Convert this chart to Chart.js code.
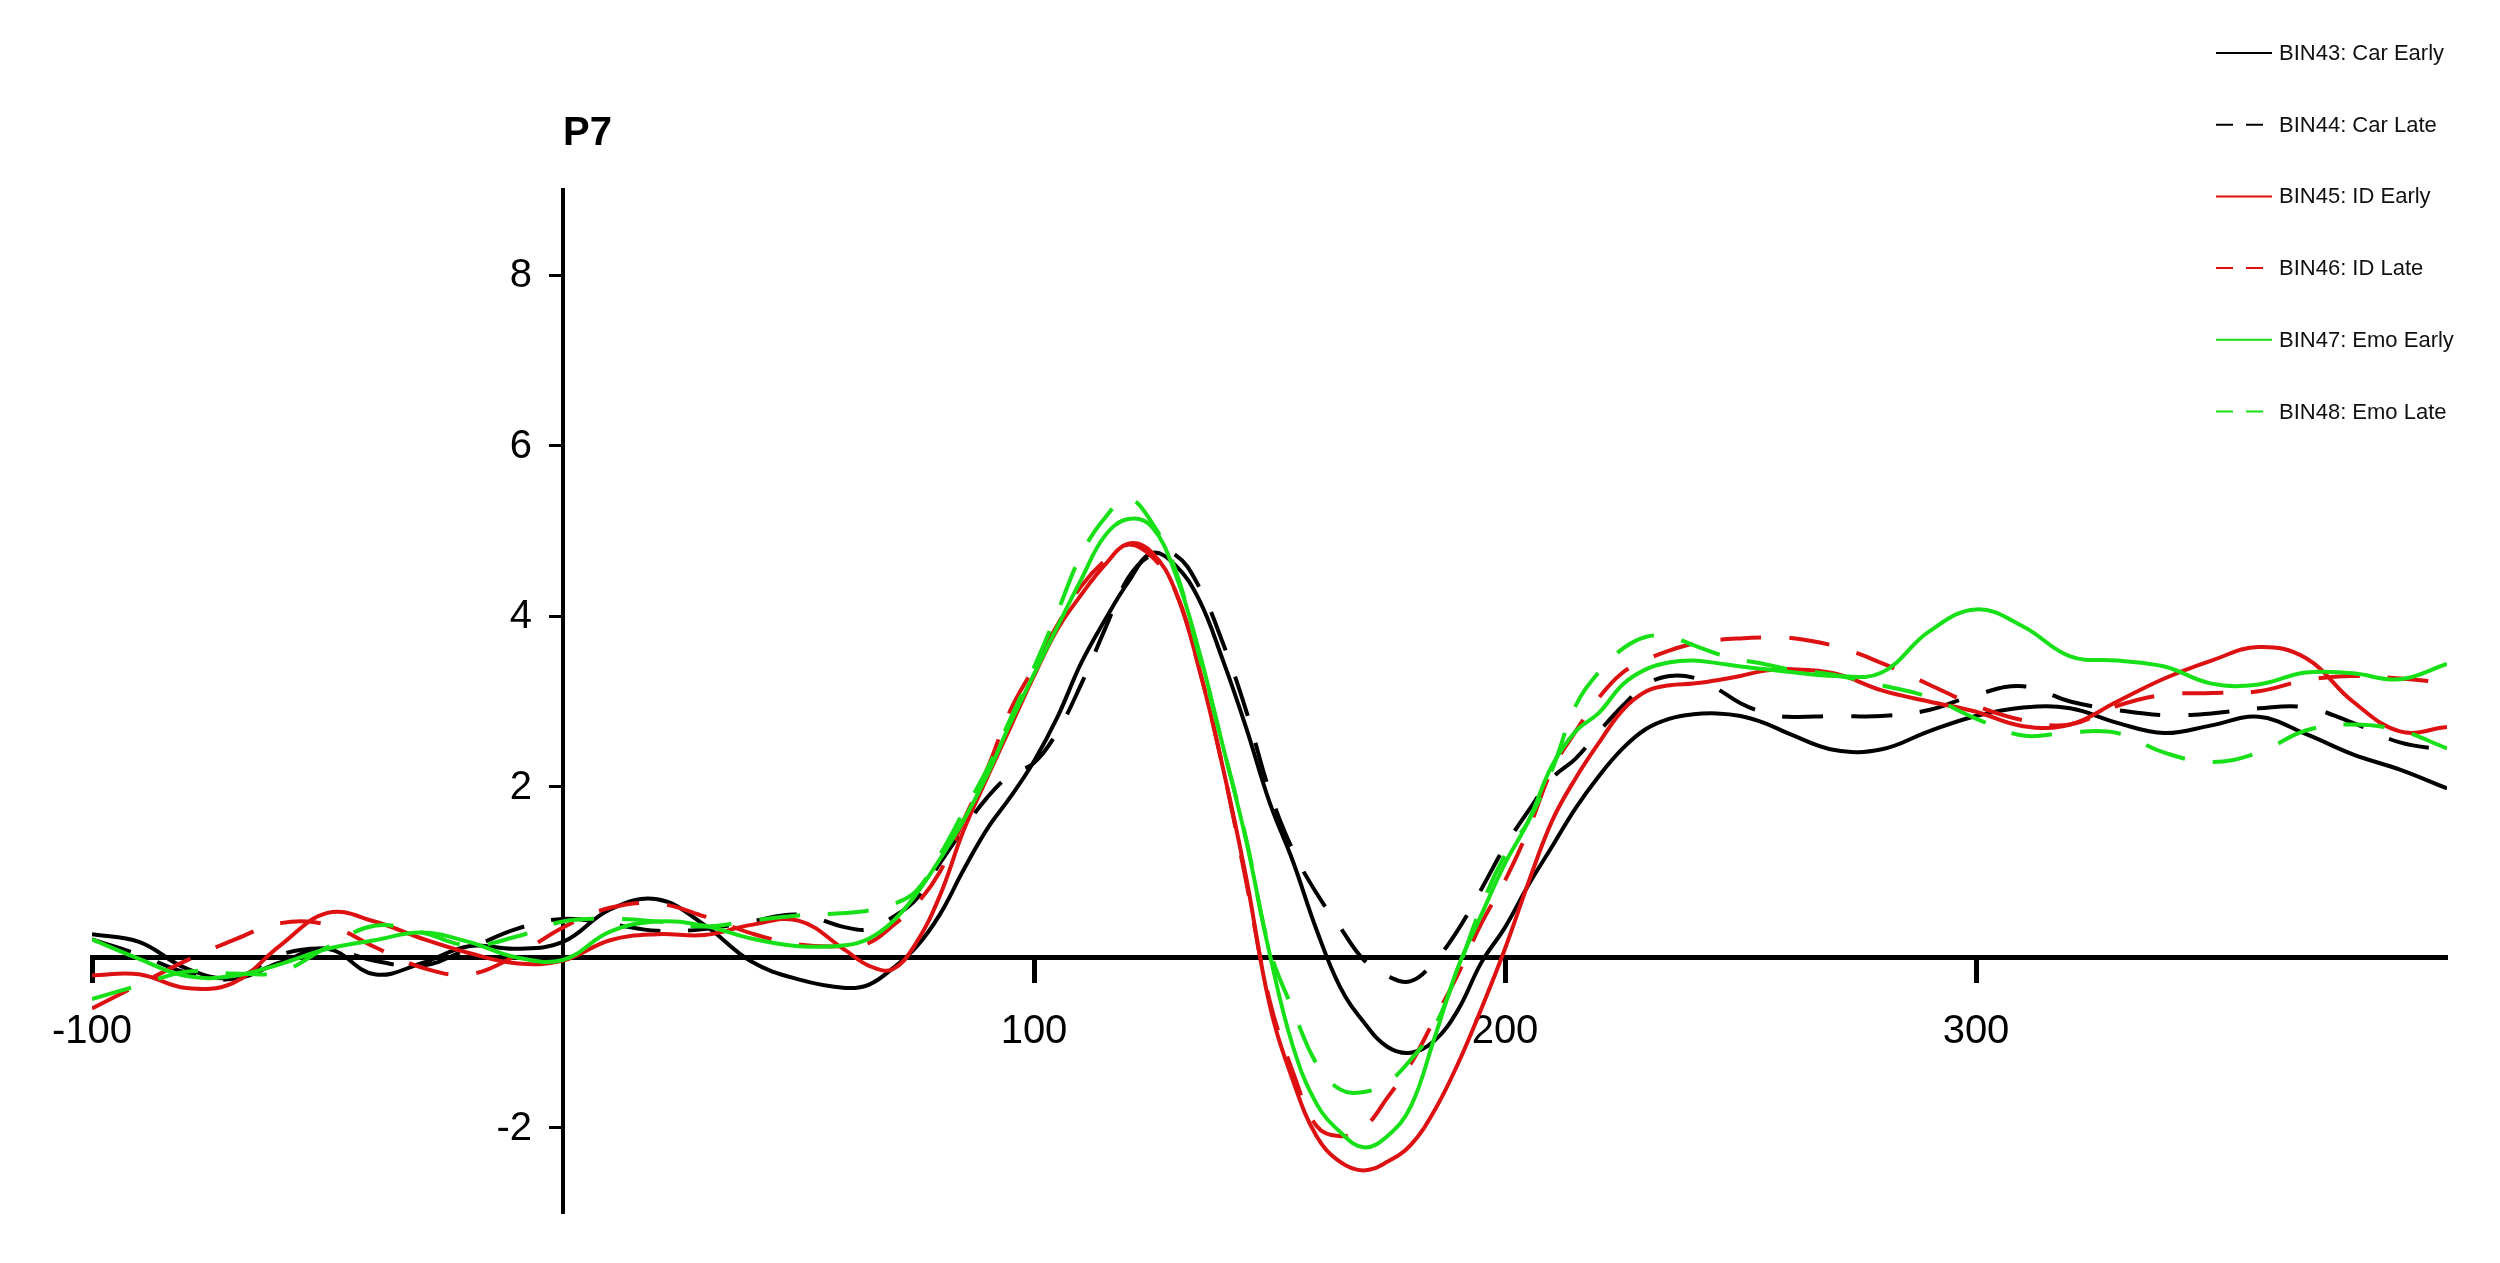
<!DOCTYPE html>
<html>
<head>
<meta charset="utf-8">
<title>P7</title>
<script src="https://cdn.jsdelivr.net/npm/chart.js@4.4.1/dist/chart.umd.min.js"></script>
<style>
  html, body { margin: 0; padding: 0; background: #fff; }
  #wrap { width: 2500px; height: 1263px; position: relative; }
</style>
</head>
<body>
<div id="wrap"><canvas id="erp"></canvas></div>
<script>
// time points (ms) - 10 ms in the baseline and tail, 5 ms around the components
const times = [-100, -90, -80, -70, -60, -50, -40, -30, -20, -10, 0, 10, 20, 30, 40, 50, 60,
  65, 70, 75, 80, 85, 90, 95, 100, 105, 110, 115, 120, 125, 130, 135, 140, 145, 150, 155, 160,
  165, 170, 175, 180, 185, 190, 195, 200, 205, 210, 215, 220, 225, 230, 235, 240, 245, 250, 255, 260,
  270, 280, 290, 300, 310, 320, 330, 340, 350, 360, 370, 380, 390, 400];

// amplitudes (uV)
const bin43 = [0.27, 0.18, -0.13, -0.25, -0.06, 0.10, -0.20, -0.07, 0.13, 0.10, 0.18, 0.56, 0.68, 0.38, -0.05, -0.26, -0.36,
  -0.32, -0.13, 0.12, 0.50, 1.02, 1.50, 1.88, 2.30, 2.82, 3.45, 3.95, 4.40, 4.74, 4.60, 4.20, 3.50, 2.70, 1.82, 1.12, 0.32,
  -0.35, -0.76, -1.05, -1.12, -0.98, -0.62, -0.06, 0.35, 0.85, 1.30, 1.75, 2.13, 2.45, 2.68, 2.80, 2.85, 2.86, 2.83, 2.75, 2.63,
  2.43, 2.44, 2.65, 2.83, 2.93, 2.92, 2.75, 2.63, 2.72, 2.82, 2.62, 2.38, 2.20, 1.98];
const bin44 = [0.21, 0.03, -0.18, -0.25, 0.03, 0.10, -0.04, -0.10, 0.10, 0.33, 0.45, 0.39, 0.31, 0.33, 0.42, 0.50, 0.35,
  0.33, 0.47, 0.68, 1.10, 1.50, 1.87, 2.14, 2.28, 2.65, 3.20, 3.84, 4.45, 4.72, 4.72, 4.35, 3.70, 2.90, 1.95, 1.25, 0.75,
  0.35, -0.03, -0.22, -0.28, -0.05, 0.32, 0.80, 1.30, 1.72, 2.10, 2.33, 2.65, 2.95, 3.20, 3.30, 3.28, 3.15, 2.98, 2.87, 2.82,
  2.83, 2.83, 2.90, 3.08, 3.18, 3.00, 2.90, 2.84, 2.86, 2.92, 2.93, 2.75, 2.52, 2.43];
const bin45 = [-0.21, -0.20, -0.36, -0.30, 0.14, 0.52, 0.42, 0.22, 0.05, -0.07, -0.04, 0.20, 0.27, 0.26, 0.38, 0.43, 0.08,
  -0.10, -0.14, 0.17, 0.72, 1.48, 2.10, 2.70, 3.30, 3.85, 4.25, 4.60, 4.85, 4.75, 4.30, 3.40, 2.25, 0.95, -0.55, -1.45, -2.10,
  -2.40, -2.50, -2.40, -2.20, -1.80, -1.25, -0.60, 0.10, 0.88, 1.60, 2.10, 2.52, 2.90, 3.12, 3.19, 3.21, 3.25, 3.30, 3.36, 3.38,
  3.33, 3.13, 3.00, 2.88, 2.71, 2.73, 3.00, 3.27, 3.48, 3.64, 3.51, 3.00, 2.65, 2.70];
const bin46 = [-0.60, -0.32, -0.04, 0.20, 0.40, 0.38, 0.12, -0.12, -0.20, 0.02, 0.35, 0.58, 0.63, 0.48, 0.28, 0.15, 0.13,
  0.17, 0.37, 0.62, 1.00, 1.60, 2.20, 2.90, 3.40, 3.90, 4.35, 4.65, 4.84, 4.70, 4.30, 3.40, 2.25, 0.90, -0.50, -1.35, -1.98,
  -2.10, -2.00, -1.65, -1.25, -0.73, -0.20, 0.40, 0.90, 1.50, 2.20, 2.65, 3.05, 3.34, 3.49, 3.60, 3.68, 3.72, 3.74, 3.75, 3.75,
  3.65, 3.45, 3.20, 2.95, 2.78, 2.73, 2.95, 3.08, 3.10, 3.12, 3.25, 3.30, 3.27, 3.22];
const bin47 = [0.21, -0.02, -0.22, -0.22, -0.08, 0.10, 0.20, 0.29, 0.18, 0.00, -0.03, 0.30, 0.42, 0.37, 0.22, 0.13, 0.14,
  0.22, 0.42, 0.74, 1.15, 1.60, 2.13, 2.75, 3.32, 3.88, 4.43, 4.94, 5.14, 5.05, 4.50, 3.60, 2.50, 1.38, 0.05, -1.05, -1.72,
  -2.05, -2.23, -2.10, -1.75, -0.95, -0.12, 0.50, 1.10, 1.60, 2.25, 2.65, 2.87, 3.20, 3.38, 3.46, 3.48, 3.45, 3.41, 3.38, 3.35,
  3.30, 3.34, 3.82, 4.08, 3.88, 3.53, 3.48, 3.41, 3.21, 3.20, 3.34, 3.33, 3.26, 3.44];
const bin48 = [-0.49, -0.33, -0.17, -0.19, -0.17, 0.12, 0.37, 0.29, 0.14, 0.24, 0.42, 0.45, 0.42, 0.36, 0.43, 0.49, 0.52,
  0.55, 0.62, 0.78, 1.20, 1.70, 2.20, 2.80, 3.40, 4.05, 4.72, 5.15, 5.38, 5.10, 4.55, 3.55, 2.50, 1.40, 0.10, -0.62, -1.25,
  -1.55, -1.58, -1.47, -1.20, -0.82, -0.15, 0.60, 1.20, 1.60, 2.20, 2.95, 3.35, 3.62, 3.76, 3.76, 3.66, 3.56, 3.49, 3.44, 3.38,
  3.31, 3.19, 3.05, 2.80, 2.60, 2.64, 2.63, 2.40, 2.29, 2.40, 2.66, 2.73, 2.66, 2.45];

const binLabels = ["BIN43: Car Early", "BIN44: Car Late", "BIN45: ID Early",
  "BIN46: ID Late", "BIN47: Emo Early", "BIN48: Emo Late"];
const xTickValues = [-100, 100, 200, 300];
const yTickValues = [-2, 2, 4, 6, 8];

const FONT = '"Liberation Sans", Arial, Helvetica, sans-serif';
const BLACK = '#000000', RED = '#dd1111', GREEN = '#18e018';

function wave(idx, values, color, dashed) {
  return {
    label: binLabels[idx],
    data: values.map((v, i) => ({ x: times[i], y: v })),
    borderColor: color,
    borderWidth: 4,
    borderDash: dashed ? [41, 28] : [],
    pointRadius: 0,
    tension: 0.4,
    fill: false,
    order: 6 - idx   // later bins on top
  };
}

// channel name, y tick labels (left of the centred axis) and the legend
const erpDecor = {
  id: 'erpDecor',
  afterDraw(chart) {
    const ctx = chart.ctx;
    const xs = chart.scales.x, ys = chart.scales.y;
    const axisX = xs.getPixelForValue(0);
    ctx.save();
    ctx.fillStyle = '#000';
    ctx.font = 'bold 40px ' + FONT;
    ctx.textAlign = 'left';
    ctx.textBaseline = 'alphabetic';
    ctx.fillText('P7', axisX, ys.top - 45);

    ctx.font = '40px ' + FONT;
    ctx.textAlign = 'right';
    ctx.textBaseline = 'middle';
    ys.ticks.forEach(t => {
      ctx.fillText(String(t.value), axisX - 31, ys.getPixelForValue(t.value) + 1);
    });

    ctx.font = '22px ' + FONT;
    ctx.textAlign = 'left';
    chart.data.datasets.forEach((ds, i) => {
      const y = 53 + i * 71.7;
      ctx.strokeStyle = ds.borderColor;
      ctx.lineWidth = 2;
      ctx.setLineDash(ds.borderDash.length ? [17, 13] : []);
      ctx.beginPath();
      ctx.moveTo(2216, y);
      ctx.lineTo(2272, y);
      ctx.stroke();
      ctx.fillStyle = '#111';
      ctx.fillText(ds.label, 2279, y + 1);
    });
    ctx.restore();
  }
};

new Chart(document.getElementById('erp'), {
  type: 'line',
  data: {
    datasets: [
      wave(0, bin43, BLACK, false),
      wave(1, bin44, BLACK, true),
      wave(2, bin45, RED, false),
      wave(3, bin46, RED, true),
      wave(4, bin47, GREEN, false),
      wave(5, bin48, GREEN, true)
    ]
  },
  options: {
    responsive: true,
    maintainAspectRatio: false,
    animation: false,
    layout: { padding: { left: 92, right: 53, top: 190, bottom: 50 } },
    plugins: {
      legend: { display: false },
      title: { display: false },
      tooltip: { enabled: false }
    },
    scales: {
      x: {
        type: 'linear',
        min: -100,
        max: 400,
        position: { y: 0 },
        afterBuildTicks: s => { s.ticks = xTickValues.map(v => ({ value: v })); },
        grid: { drawOnChartArea: false, drawTicks: true, tickLength: 23, tickWidth: 5, tickColor: '#000' },
        border: { display: true, color: '#000', width: 5 },
        ticks: { color: '#000', padding: 28, autoSkip: false, maxRotation: 0,
          font: { size: 40, family: FONT } }
      },
      y: {
        type: 'linear',
        min: -3,
        max: 9,
        position: { x: 0 },
        afterBuildTicks: s => { s.ticks = yTickValues.map(v => ({ value: v })); },
        grid: { drawOnChartArea: false, drawTicks: true, tickLength: 12, tickWidth: 3, tickColor: '#000' },
        border: { display: true, color: '#000', width: 4 },
        ticks: { display: false }
      }
    }
  },
  plugins: [erpDecor]
});
</script>
</body>
</html>
